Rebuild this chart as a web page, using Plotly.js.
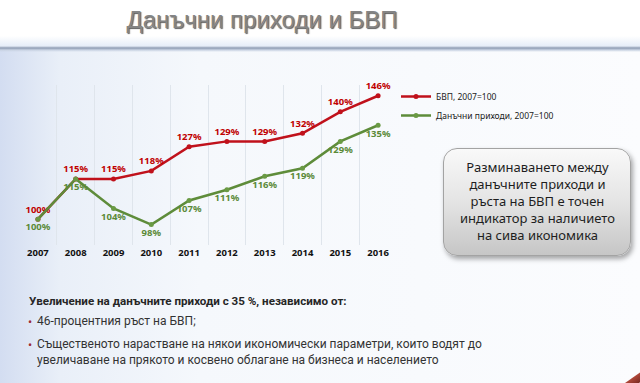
<!DOCTYPE html>
<html>
<head>
<meta charset="utf-8">
<script src="https://cdn.plot.ly/plotly-3.0.1.min.js"></script>
<style>
  html, body { margin:0; padding:0; width:640px; height:383px; overflow:hidden; }
  body {
    background:
      linear-gradient(to bottom, #ffffff 0px, #ffffff 36px, #e6edf8 46px, #8e9cb3 48px, #c9d3e3 50px, rgba(255,255,255,0) 52px),
      linear-gradient(to right, #d3ddf1 0px, #e9eff8 60px, #f5f8fc 200px, #fbfcfe 640px);
    position: relative;
    font-family: "Noto Sans", sans-serif;
  }
  #box {
    position:absolute; left:443px; top:148px; width:186px; height:106px;
    border-radius:14px; border:1px solid #a3a3a3;
    background: linear-gradient(to bottom, #f9f9f9 0%, #e4e4e4 50%, #c6c6c6 100%);
    box-shadow: 2px 3px 5px rgba(0,0,0,0.35);
  }
  #deco {
    position:absolute; left:612px; top:372px; width:60px; height:8px;
    background: linear-gradient(to bottom, #b0483a, #7a2a22);
    transform: rotate(-35deg);
  }
  #chart { position:absolute; left:0; top:0; width:640px; height:383px; }
</style>
</head>
<body>
<div id="box"></div>
<div id="deco"></div>
<div id="chart"></div>
<script>
const years = ['2007','2008','2009','2010','2011','2012','2013','2014','2015','2016'];
const gdp = [100, 115, 115, 118, 127, 129, 129, 132, 140, 146];
const tax = [100, 115, 104, 98, 107, 111, 116, 119, 129, 135];
const gdpName = 'БВП, 2007=100';
const taxName = 'Данъчни приходи, 2007=100';
const titleText = 'Данъчни приходи и БВП';
const boxText = 'Разминаването между<br>данъчните приходи и<br>ръста на БВП е точен<br>индикатор за наличието<br>на сива икономика';
const headText = '<b>Увеличение на данъчните приходи с 35 %, независимо от:</b>';
const bullets = [
  '46-процентния ръст на БВП;',
  'Същественото нарастване на някои икономически параметри, които водят до<br>увеличаване на прякото и косвено облагане на бизнеса и населението'
];

const red = '#c0111b', green = '#5e8c3a';
const L = 19, R = 397, T = 85, B = 245;
const px = x => (x - L) / (R - L);
const py = y => (B - y) / (B - T);

const traces = [
  { x: years, y: gdp, name: gdpName, type: 'scatter', mode: 'lines+markers+text', cliponaxis: false,
    line: {color: red, width: 2.5}, marker: {color: red, size: 5},
    text: gdp.map(v => '<b>' + v + '%</b>'), textposition: 'top center',
    textfont: {color: '#c00000', size: 9.5, family: 'Noto Sans'}, hoverinfo: 'none' },
  { x: years, y: tax, name: taxName, type: 'scatter', mode: 'lines+markers+text', cliponaxis: false,
    line: {color: green, width: 2.5}, marker: {color: '#6a9a44', size: 5},
    text: tax.map(v => '<b>' + v + '%</b>'), textposition: 'bottom center',
    textfont: {color: '#5b8a38', size: 9.5, family: 'Noto Sans'}, hoverinfo: 'none' }
];

const annotations = [
  { xref: 'paper', yref: 'paper', x: px(537), y: py(201), text: boxText, showarrow: false,
    font: {family: 'Noto Sans', size: 13, color: '#1e1e1e'}, align: 'center', xanchor: 'center', yanchor: 'middle' },
  { xref: 'paper', yref: 'paper', x: px(27), y: py(301), text: headText, showarrow: false,
    font: {family: 'Roboto', size: 11.6, color: '#262626'}, align: 'left', xanchor: 'left', yanchor: 'middle' },
  { xref: 'paper', yref: 'paper', x: px(26), y: py(321), text: '•', showarrow: false,
    font: {family: 'Noto Sans', size: 11, color: '#9c2a35'}, xanchor: 'left', yanchor: 'middle' },
  { xref: 'paper', yref: 'paper', x: px(35), y: py(321), text: bullets[0], showarrow: false,
    font: {family: 'Roboto', size: 12, color: '#333333'}, align: 'left', xanchor: 'left', yanchor: 'middle' },
  { xref: 'paper', yref: 'paper', x: px(26), y: py(344), text: '•', showarrow: false,
    font: {family: 'Noto Sans', size: 11, color: '#9c2a35'}, xanchor: 'left', yanchor: 'middle' },
  { xref: 'paper', yref: 'paper', x: px(35), y: py(352), text: bullets[1], showarrow: false,
    font: {family: 'Roboto', size: 12, color: '#333333'}, align: 'left', xanchor: 'left', yanchor: 'middle' }
];

const layout = {
  width: 640, height: 383,
  margin: {l: L, r: 640 - R, t: T, b: 383 - B, pad: 0},
  paper_bgcolor: 'rgba(0,0,0,0)', plot_bgcolor: 'rgba(0,0,0,0)',
  title: { text: titleText, x: 262 / 640, xanchor: 'center', y: 1 - 20 / 383, yanchor: 'middle', yref: 'container',
    font: {family: 'Liberation Sans', size: 24, color: '#858585', shadow: '1px 1px 1px rgba(40,40,40,0.75)'} },
  xaxis: { type: 'category', tickson: 'boundaries', showgrid: true, gridcolor: '#dfe5ec', gridwidth: 1,
    showline: false, zeroline: false, ticks: '', ticklen: 0,
    tickfont: {family: 'Noto Sans', size: 9.5, color: '#111111', weight: 'bold'}, range: [-0.5, 9.5] },
  yaxis: { range: [90.4, 150], visible: false, showgrid: false, zeroline: false },
  showlegend: true,
  legend: { x: px(396), y: py(82), xanchor: 'left', yanchor: 'top', bgcolor: 'rgba(0,0,0,0)',
    font: {family: 'Noto Sans', size: 8.5, color: '#222222'}, itemwidth: 30, tracegroupgap: 0 },
  annotations: annotations
};

Plotly.newPlot('chart', traces, layout, {displayModeBar: false, staticPlot: true});
</script>
</body>
</html>
